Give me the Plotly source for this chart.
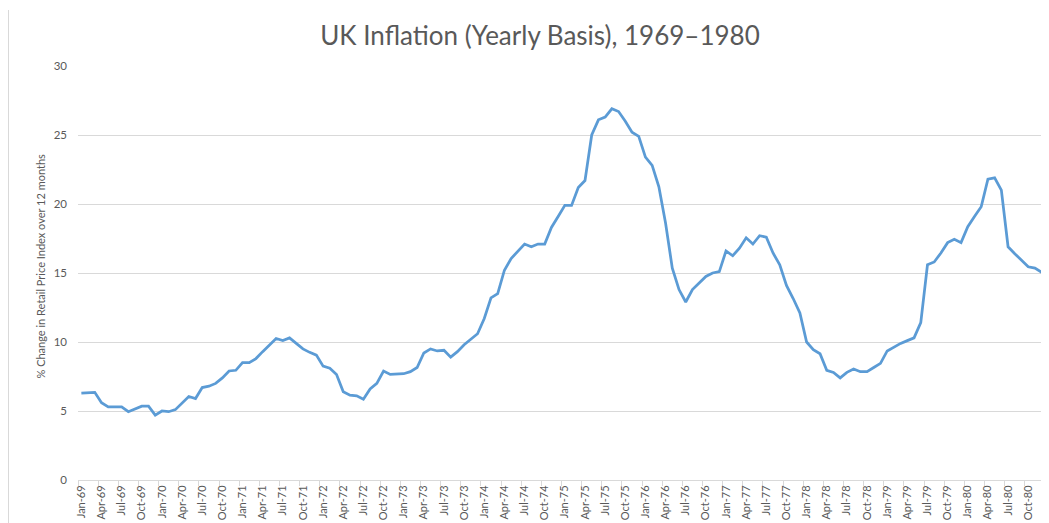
import plotly.graph_objects as go

# ---- data ----
month_names = ["Jan", "Feb", "Mar", "Apr", "May", "Jun", "Jul", "Aug", "Sep", "Oct", "Nov", "Dec"]
years = ["69", "70", "71", "72", "73", "74", "75", "76", "77", "78", "79", "80"]
months = [f"{m}-{y}" for y in years for m in month_names]

inflation_1969 = [6.3, 6.3, 6.35, 5.6, 5.3, 5.3, 5.3, 4.95, 5.15, 5.35, 5.35, 4.7]
inflation_1970 = [5.0, 4.95, 5.1, 5.6, 6.05, 5.9, 6.7, 6.8, 7.0, 7.4, 7.9, 7.95]
inflation_1971 = [8.5, 8.5, 8.8, 9.3, 9.8, 10.25, 10.1, 10.3, 9.9, 9.5, 9.25, 9.05]
inflation_1972 = [8.25, 8.1, 7.65, 6.4, 6.15, 6.1, 5.85, 6.6, 7.0, 7.9, 7.65, 7.7]
inflation_1973 = [7.7, 7.85, 8.15, 9.2, 9.5, 9.35, 9.4, 8.9, 9.3, 9.8, 10.2, 10.6]
inflation_1974 = [11.7, 13.2, 13.5, 15.2, 16.05, 16.55, 17.1, 16.9, 17.1, 17.1, 18.3, 19.1]
inflation_1975 = [19.9, 19.9, 21.2, 21.7, 25.0, 26.1, 26.3, 26.9, 26.7, 26.0, 25.2, 24.9]
inflation_1976 = [23.4, 22.8, 21.25, 18.6, 15.35, 13.8, 12.9, 13.8, 14.3, 14.75, 15.0, 15.1]
inflation_1977 = [16.6, 16.25, 16.8, 17.55, 17.1, 17.7, 17.6, 16.45, 15.6, 14.1, 13.15, 12.1]
inflation_1978 = [10.0, 9.45, 9.15, 7.95, 7.8, 7.4, 7.8, 8.05, 7.85, 7.85, 8.15, 8.45]
inflation_1979 = [9.35, 9.62, 9.9, 10.1, 10.3, 11.4, 15.6, 15.8, 16.45, 17.2, 17.45, 17.2]
inflation_1980 = [18.35, 19.1, 19.8, 21.8, 21.9, 21.0, 16.9, 16.4, 15.95, 15.45, 15.35, 15.05]

inflation = (inflation_1969 + inflation_1970 + inflation_1971 + inflation_1972 +
             inflation_1973 + inflation_1974 + inflation_1975 + inflation_1976 +
             inflation_1977 + inflation_1978 + inflation_1979 + inflation_1980)

y_ticks = [0, 5, 10, 15, 20, 25, 30]
title_text = "UK Inflation (Yearly Basis), 1969\u20131980"
y_title = "% Change in Retail Price Index over 12 months"

# ---- figure ----
xi = list(range(len(months)))
tick_idx = xi[::3]

TEXT = "#595959"
GRID = "#d9d9d9"

fig = go.Figure()
fig.add_trace(go.Scatter(
    x=xi, y=inflation, mode="lines",
    line=dict(color="#5b9bd5", width=2.75),
    customdata=months, hovertemplate="%{customdata}: %{y}<extra></extra>",
))

# the page body has an 8px margin, so the figure is drawn at (8, 8)
OFF = 8
W, H = 1049 - OFF, 523 - OFF
L, R, T, B = 70, 4, 58, 43
pw = W - L - R
ph = H - T - B

fig.update_layout(
    width=W, height=H,
    margin=dict(l=L, r=R, t=T, b=B, autoexpand=False),
    paper_bgcolor="white", plot_bgcolor="white",
    showlegend=False,
    title=dict(text=title_text, x=(540 - OFF) / W, xanchor="center", xref="container",
               y=1 - (36 - OFF) / H, yanchor="middle", yref="container",
               font=dict(family="Lato", size=26, color=TEXT)),
    font=dict(family="Lato", color=TEXT),
)

fig.update_xaxes(
    range=[-0.5, len(months) - 0.5],
    tickmode="array", tickvals=tick_idx, ticktext=[months[i] for i in tick_idx],
    tickangle=-90, tickfont=dict(family="Lato", size=11, color=TEXT),
    ticks="", showgrid=False, zeroline=False,
    showline=True, linecolor=GRID, linewidth=1,
    minor=dict(ticks="outside", tick0=-0.5, dtick=3, ticklen=5, tickcolor=GRID, showgrid=False),
    automargin=False,
)
fig.update_yaxes(
    range=[0, 30], tickmode="array", tickvals=y_ticks,
    tickfont=dict(family="Lato", size=11.5, color=TEXT),
    showgrid=True, gridcolor=GRID, gridwidth=1,
    zeroline=False, showline=False, ticks="", ticklabelstandoff=10,
    automargin=False,
)

fig.add_annotation(
    text=y_title, textangle=-90, showarrow=False,
    xref="paper", yref="paper",
    x=(40 - OFF - L) / pw, y=(480 - 266.5) / ph, xanchor="center", yanchor="middle",
    font=dict(family="Lato", size=11, color=TEXT),
)

# chart-area border edge on the left
fig.add_shape(type="line", xref="paper", yref="paper",
              x0=(0.5 - L) / pw, x1=(0.5 - L) / pw, y0=(472 - H) / ph, y1=(472 - 2) / ph,
              line=dict(color=GRID, width=1))

fig.write_html("out.html")
